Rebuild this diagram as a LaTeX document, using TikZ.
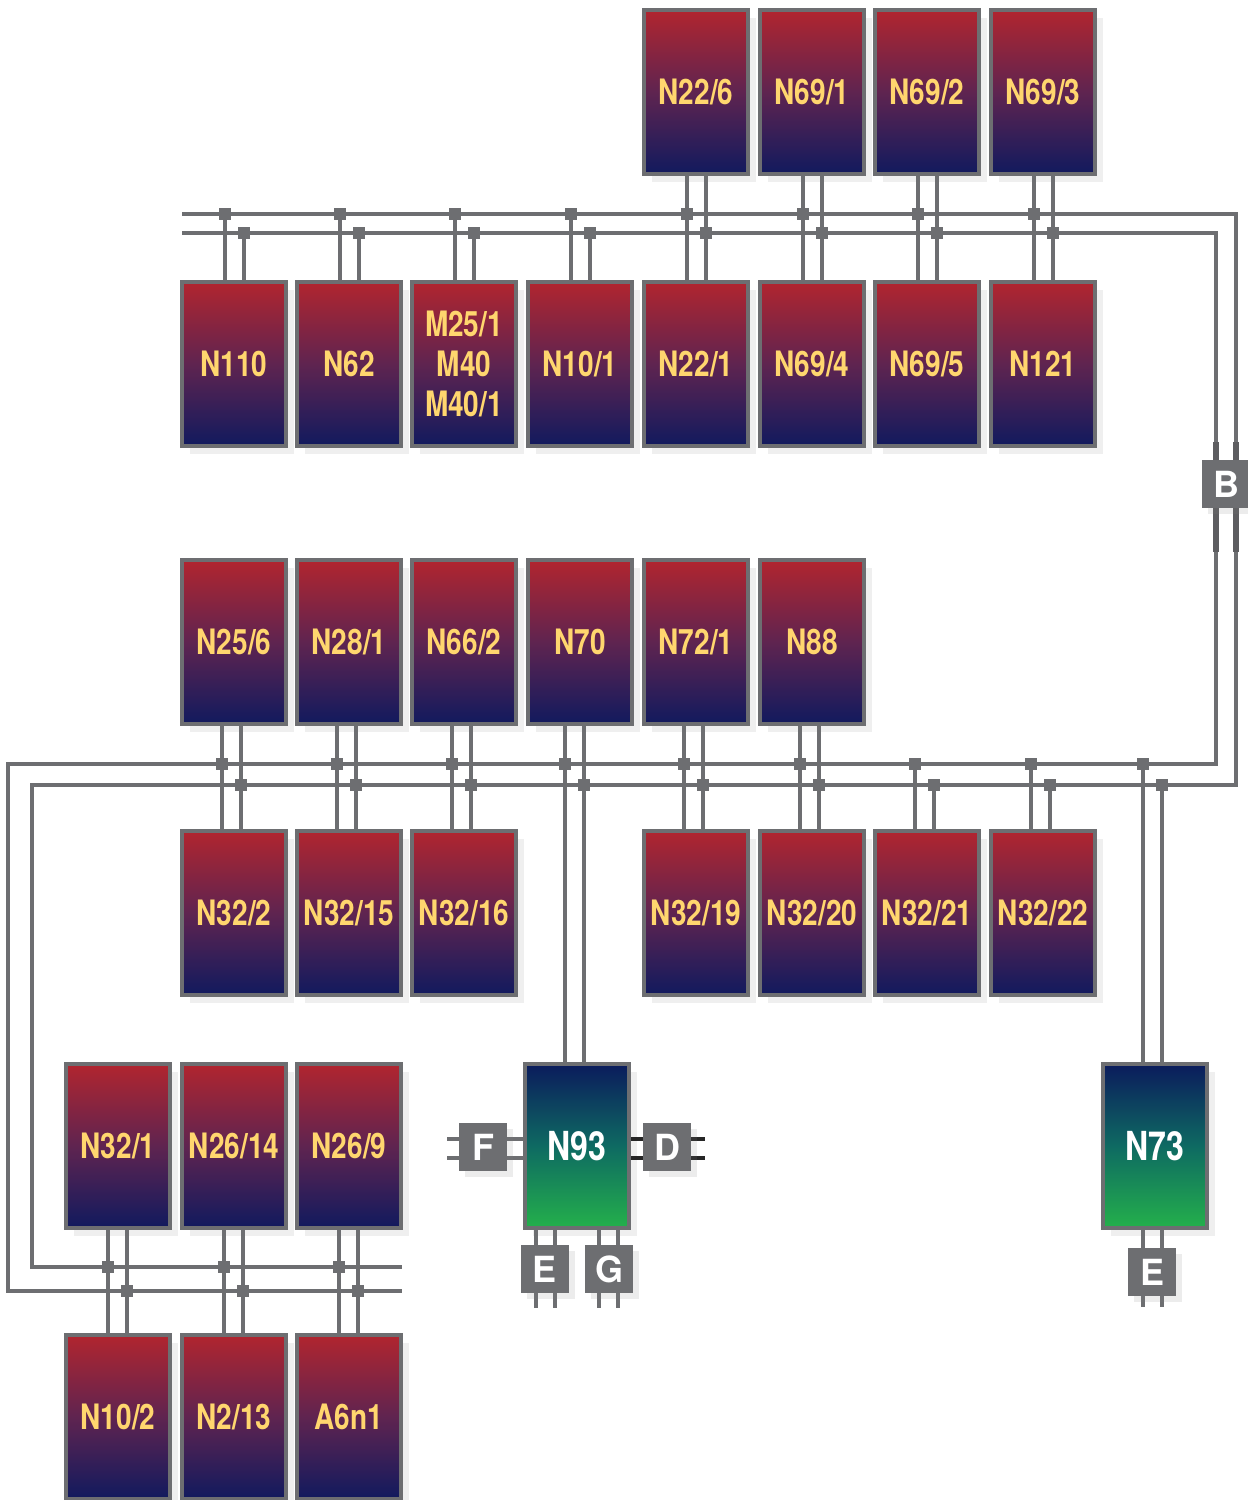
\documentclass[tikz,border=0pt]{standalone}
\usepackage{fontspec}
\setmainfont{TeX Gyre Heros}[FakeStretch=0.8]
\newfontfamily\plugfont{TeX Gyre Heros}
\usetikzlibrary{calc, positioning, shadows}

\definecolor{wiregray}{HTML}{6D6E71}
\definecolor{boxred}{HTML}{B1252F}
\definecolor{boxmid}{HTML}{5F2450}
\definecolor{boxnavy}{HTML}{111A5E}
\definecolor{labelgold}{HTML}{FFD66E}
\definecolor{ctrlnavy}{HTML}{0B1B5C}
\definecolor{ctrlteal}{HTML}{0E6A62}
\definecolor{ctrlgreen}{HTML}{24B04B}

\pgfdeclarelayer{front}
\pgfsetlayers{main,front}

% small square where a tap meets a bus line
\newcommand{\busjoint}[1]{\fill[wiregray] (#1) +(-6,-6) rectangle +(6,6);}

\begin{document}
\begin{tikzpicture}[
  x=0.5pt, y=-0.5pt,
  font=\bfseries\fontsize{17.5}{20}\selectfont,
  module/.style={rectangle, draw=wiregray, line width=2.2pt, top color=boxred, bottom color=boxnavy, middle color=boxmid, minimum width=52pt, minimum height=82pt, inner sep=0pt, align=center, text=labelgold, drop shadow={opacity=0.12, shadow xshift=4pt, shadow yshift=-4pt}},
  ctrl/.style={module, top color=ctrlnavy, bottom color=ctrlgreen, middle color=ctrlteal, text=white, font=\bfseries\fontsize{20}{22}\selectfont},
  plug/.style={rectangle, fill=wiregray, minimum size=24pt, inner sep=0pt, text=white, font=\plugfont\bfseries\fontsize{18}{18}\selectfont, drop shadow={opacity=0.15, shadow xshift=3pt, shadow yshift=-3pt}},
  wire/.style={draw=wiregray, line width=1.9pt},
  stub/.style={draw=wiregray!85!black, line width=2.6pt},
  dwire/.style={draw=black!85, line width=2.4pt}
]
\path[use as bounding box, fill=white] (0,0) rectangle (1248,1500);

% top group
\node[module] (n226) at (696,92) {N22/6};
\node[module] (n691) at (812,92) {N69/1};
\node[module] (n692) at (927,92) {N69/2};
\node[module] (n693) at (1043,92) {N69/3};

\node[module] (n110) at (234,364) {N110};
\node[module] (n62) at (349,364) {N62};
\node[module] (m25) at (464,364) {M25/1\\M40\\M40/1};
\node[module] (n101) at (580,364) {N10/1};
\node[module] (n221) at (696,364) {N22/1};
\node[module] (n694) at (812,364) {N69/4};
\node[module] (n695) at (927,364) {N69/5};
\node[module] (n121) at (1043,364) {N121};

% middle group
\node[module] (n256) at (234,642) {N25/6};
\node[module] (n281) at (349,642) {N28/1};
\node[module] (n662) at (464,642) {N66/2};
\node[module] (n70) at (580,642) {N70};
\node[module] (n721) at (696,642) {N72/1};
\node[module] (n88) at (812,642) {N88};

\node[module] (n322) at (234,913) {N32/2};
\node[module] (n3215) at (349,913) {N32/15};
\node[module] (n3216) at (464,913) {N32/16};
\node[module] (n3219) at (696,913) {N32/19};
\node[module] (n3220) at (812,913) {N32/20};
\node[module] (n3221) at (927,913) {N32/21};
\node[module] (n3222) at (1043,913) {N32/22};

\node[ctrl] (n93) at (577,1146) {N93};
\node[ctrl] (n73) at (1155,1146) {N73};

% bottom group
\node[module] (n321) at (118,1146) {N32/1};
\node[module] (n2614) at (234,1146) {N26/14};
\node[module] (n269) at (349,1146) {N26/9};

\node[module] (n102) at (118,1417) {N10/2};
\node[module] (n213) at (234,1417) {N2/13};
\node[module] (a6n1) at (349,1417) {A6n1};

\begin{pgfonlayer}{front}
  \node[plug] (bplug) at (1226,484) {B};
  \node[plug] (fplug) at (483,1147) {F};
  \node[plug] (dplug) at (667,1147) {D};
  \node[plug] (eplug) at (545,1269) {E};
  \node[plug] (gplug) at (609,1269) {G};
  \node[plug] (eplugb) at (1152,1272) {E};
\end{pgfonlayer}

% bus lines
\coordinate (hubAo) at (182,214);
\coordinate (hubAi) at (182,233);
\coordinate (rimo) at (1236,785);
\coordinate (rimi) at (1216,764);
\coordinate (lefto) at (32,1267);
\coordinate (lefti) at (8,1291);
\coordinate (endo) at (402,1267);
\coordinate (endi) at (402,1291);
\draw[wire] (hubAo) -| (rimo) -| (lefto) -- (endo);
\draw[wire] (hubAi) -| (rimi) -| (lefti) -- (endi);

\draw[stub] (bplug.north -| rimi) -- ++(0,-18);
\draw[stub] (bplug.north -| rimo) -- ++(0,-18);
\draw[stub] (bplug.south -| rimi) -- ++(0,44);
\draw[stub] (bplug.south -| rimo) -- ++(0,44);

% taps, top
\foreach \l in {n110,n62,m25,n101}{
  \coordinate (tl) at ([xshift=-4.5pt]\l.north);
  \coordinate (tr) at ([xshift=5pt]\l.north);
  \draw[wire] (tl |- hubAo) -- (tl);
  \draw[wire] (tr |- hubAi) -- (tr);
  \busjoint{tl |- hubAo} \busjoint{tr |- hubAi}
}
\foreach \u/\l in {n226/n221,n691/n694,n692/n695,n693/n121}{
  \coordinate (tl) at ([xshift=-4.5pt]\l.north);
  \coordinate (tr) at ([xshift=5pt]\l.north);
  \draw[wire] (tl |- \u.south) -- (tl);
  \draw[wire] (tr |- \u.south) -- (tr);
  \busjoint{tl |- hubAo} \busjoint{tr |- hubAi}
}

% taps, middle
\foreach \u/\l in {n256/n322,n281/n3215,n662/n3216,n70/n93,n721/n3219,n88/n3220}{
  \coordinate (tl) at ([xshift=-6pt]\l.north);
  \coordinate (tr) at ([xshift=3.5pt]\l.north);
  \draw[wire] (tl |- \u.south) -- (tl);
  \draw[wire] (tr |- \u.south) -- (tr);
  \busjoint{tl |- rimi} \busjoint{tr |- rimo}
}
\foreach \l in {n3221,n3222,n73}{
  \coordinate (tl) at ([xshift=-6pt]\l.north);
  \coordinate (tr) at ([xshift=3.5pt]\l.north);
  \draw[wire] (tl |- rimi) -- (tl);
  \draw[wire] (tr |- rimo) -- (tr);
  \busjoint{tl |- rimi} \busjoint{tr |- rimo}
}

% taps, bottom
\foreach \u/\l in {n321/n102,n2614/n213,n269/a6n1}{
  \coordinate (tl) at ([xshift=-5pt]\l.north);
  \coordinate (tr) at ([xshift=4.5pt]\l.north);
  \draw[wire] (tl |- \u.south) -- (tl);
  \draw[wire] (tr |- \u.south) -- (tr);
  \busjoint{tl |- lefto} \busjoint{tr |- lefti}
}

% plug leads
\coordinate (fend1) at (447,1139);
\coordinate (fend2) at (447,1158);
\draw[wire] (fend1) -- (fend1 -| n93.west);
\draw[wire] (fend2) -- (fend2 -| n93.west);
\coordinate (dend1) at (705,1139);
\coordinate (dend2) at (705,1158);
\draw[dwire] (dend1 -| n93.east) -- (dend1);
\draw[dwire] (dend2 -| n93.east) -- (dend2);
\foreach \x in {536,555,599,618}{
  \coordinate (lead) at (\x,1308);
  \draw[wire] (lead |- n93.south) -- (lead);
}
\foreach \x in {1143,1162}{
  \coordinate (lead) at (\x,1307);
  \draw[wire] (lead |- n73.south) -- (lead);
}

\end{tikzpicture}
\end{document}
